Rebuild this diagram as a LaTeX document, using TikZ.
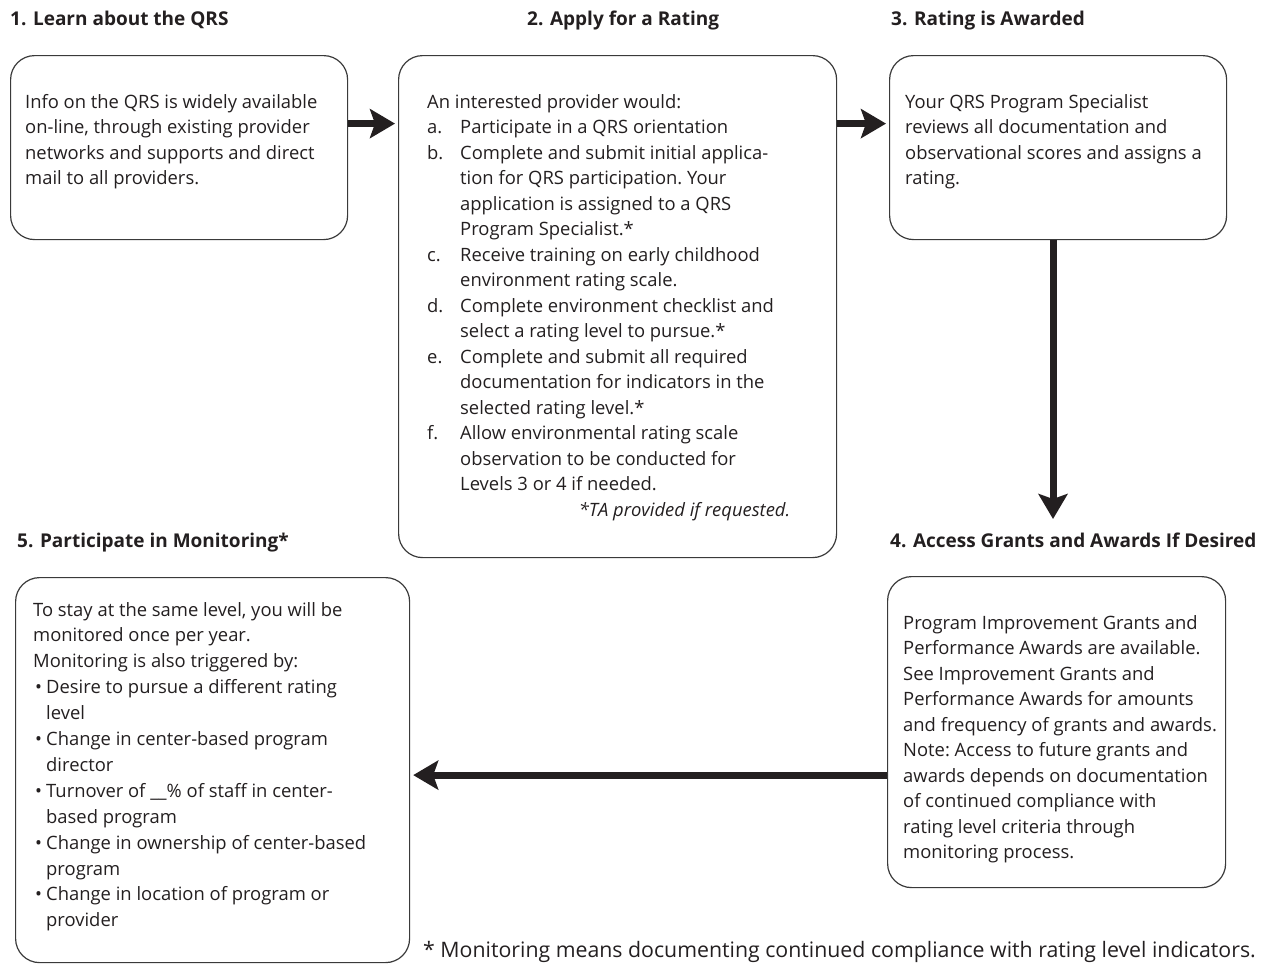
\documentclass[tikz,border=0pt]{standalone}
\usepackage{fontspec}
\setmainfont{Open Sans}
\usetikzlibrary{arrows.meta}
\definecolor{ink}{HTML}{231F20}
\definecolor{edge}{HTML}{3A3A3A}
\newcommand{\bodyfont}{\fontsize{18.4}{25.5}\selectfont\frenchspacing}
\tikzset{
  stepbox/.style={draw=edge, line width=1.2pt, rounded corners=24pt, anchor=north west, inner sep=0pt},
  steptitle/.style={anchor=base west, inner sep=0pt, text=ink, font=\fontsize{19}{22}\selectfont\bfseries},
  bodytext/.style={anchor=base west, inner sep=0pt, text=ink},
  flow/.style={line width=7pt, draw=ink, -{Stealth[length=25pt,width=29pt,inset=5pt]}},
}
\begin{document}
\begin{tikzpicture}[x=1pt,y=-1pt]
\useasboundingbox (0,0) rectangle (1268,964);
% boxes
\node[stepbox, minimum width=337pt, minimum height=184pt] (b1) at (10,55) {};
\node[stepbox, minimum width=438pt, minimum height=502pt] (b2) at (398,55) {};
\node[stepbox, minimum width=337pt, minimum height=184pt] (b3) at (889,55) {};
\node[stepbox, minimum width=338pt, minimum height=311pt] (b4) at (887,576) {};
\node[stepbox, minimum width=394pt, minimum height=385pt] (b5) at (15,577) {};
% titles
\node[steptitle] (t1) at (10,25) {1. Learn about the QRS};
\node[steptitle] (t2) at (527,25) {2. Apply for a Rating};
\node[steptitle] (t3) at (891,25) {3. Rating is Awarded};
\node[steptitle] (t4) at (890,547) {4. Access Grants and Awards If Desired};
\node[steptitle] (t5) at (17,547) {5. Participate in Monitoring*};
% texts
\node[bodytext] (x1) at (25,108) {\begin{minipage}[t]{400pt}\bodyfont
Info on the QRS is widely available\\
on-line, through existing provider\\
networks and supports and direct\\
mail to all providers.\end{minipage}};
\node[bodytext] (x2) at (427,108) {\begin{minipage}[t]{420pt}\bodyfont
An interested provider would:\\
\makebox[33pt][l]{a.}Participate in a QRS orientation\\
\makebox[33pt][l]{b.}Complete and submit initial applica-\\
\hspace*{33pt}tion for QRS participation. Your\\
\hspace*{33pt}application is assigned to a QRS\\
\hspace*{33pt}Program Specialist.*\\
\makebox[33pt][l]{c.}Receive training on early childhood\\
\hspace*{33pt}environment rating scale.\\
\makebox[33pt][l]{d.}Complete environment checklist and\\
\hspace*{33pt}select a rating level to pursue.*\\
\makebox[33pt][l]{e.}Complete and submit all required\\
\hspace*{33pt}documentation for indicators in the\\
\hspace*{33pt}selected rating level.*\\
\makebox[33pt][l]{f.}Allow environmental rating scale\\
\hspace*{33pt}observation to be conducted for\\
\hspace*{33pt}Levels 3 or 4 if needed.\\
\makebox[363pt][r]{\itshape *TA provided if requested.}\end{minipage}};
\node[bodytext] (x3) at (905,108) {\begin{minipage}[t]{400pt}\bodyfont
Your QRS Program Specialist\\
reviews all documentation and\\
observational scores and assigns a\\
rating.\end{minipage}};
\node[bodytext] (x4) at (903,629) {\begin{minipage}[t]{400pt}\bodyfont
Program Improvement Grants and\\
Performance Awards are available.\\
See Improvement Grants and\\
Performance Awards for amounts\\
and frequency of grants and awards.\\
Note: Access to future grants and\\
awards depends on documentation\\
of continued compliance with\\
rating level criteria through\\
monitoring process.\end{minipage}};
\node[bodytext] (x5) at (33,616) {\begin{minipage}[t]{420pt}\fontsize{18.4}{25.9}\selectfont\frenchspacing
To stay at the same level, you will be\\
monitored once per year.\\
Monitoring is also triggered by:\\
\hspace*{2pt}\makebox[11pt][l]{•}Desire to pursue a different rating\\
\hspace*{13pt}level\\
\hspace*{2pt}\makebox[11pt][l]{•}Change in center-based program\\
\hspace*{13pt}director\\
\hspace*{2pt}\makebox[11pt][l]{•}Turnover of \_\_\% of staff in center-\\
\hspace*{13pt}based program\\
\hspace*{2pt}\makebox[11pt][l]{•}Change in ownership of center-based\\
\hspace*{13pt}program\\
\hspace*{2pt}\makebox[11pt][l]{•}Change in location of program or\\
\hspace*{13pt}provider\end{minipage}};
\node[bodytext] (fn) at (423,957) {\fontsize{21.3}{25}\selectfont\frenchspacing * Monitoring means documenting continued compliance with rating level indicators.};
% connectors
\draw[flow, shorten >=3pt] ([yshift=24pt]b1.east) -- ([yshift=24pt]b2.west |- b1.east);
\coordinate (p2) at ([yshift=24pt]b3.west);
\draw[flow, shorten >=3pt] (b2.east |- p2) -- (p2);
\coordinate (p3) at (1053,519);
\draw[flow] (b3.south -| p3) -- (p3);
\coordinate (p5) at ([yshift=-43pt]b4.west);
\draw[flow, shorten >=3pt] (p5) -- (b5.east |- p5);
\end{tikzpicture}
\end{document}
